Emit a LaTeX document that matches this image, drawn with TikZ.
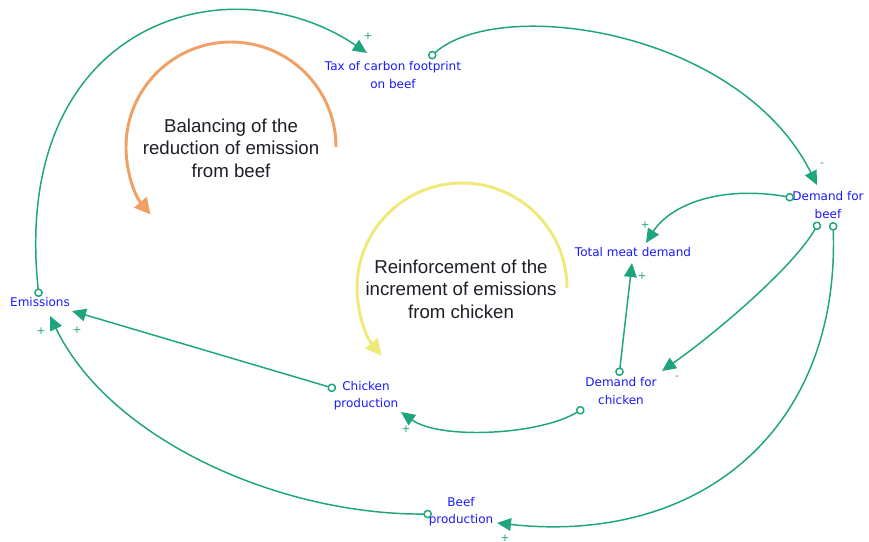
\documentclass[tikz,border=0pt]{standalone}
\usepackage{fontspec}
\setmainfont{DejaVu Sans}
\newfontfamily\loopfont{Liberation Sans}
\usetikzlibrary{arrows.meta}
\definecolor{linkgreen}{RGB}{30,165,125}
\definecolor{varblue}{RGB}{25,25,255}
\definecolor{loopone}{RGB}{240,160,100}
\definecolor{looptwo}{RGB}{240,232,120}
\definecolor{looptext}{RGB}{30,30,40}

\begin{document}
\begin{tikzpicture}[x=0.75pt,y=-0.75pt,
  var/.style={text=varblue, font=\fontsize{9pt}{13pt}\selectfont, align=center, inner sep=0pt},
  link/.style={draw=linkgreen, line width=1.1pt,
    {Circle[open,length=6.5pt]}-{Triangle[length=10.5pt,width=9.5pt]}},
  sign/.style={text=linkgreen, font=\fontsize{8pt}{9pt}\selectfont, inner sep=0pt},
  loopnote/.style={text=looptext, font=\loopfont\fontsize{14pt}{17pt}\selectfont,
    align=center, inner sep=0pt},
  looparrow/.style={line width=2.2pt, -{Triangle[length=12pt,width=12pt]}}
]
\useasboundingbox (0,0) rectangle (869,542);

% loop markers
\draw[looparrow, draw=loopone] (336,147) arc[start angle=0, end angle=-220, radius=105];
\draw[looparrow, draw=looptwo] (567,288) arc[start angle=0, end angle=-220, radius=105];
\node[loopnote] (balance) at (231,148) {Balancing of the\\reduction of emission\\from beef};
\node[loopnote] (reinforce) at (461,289) {Reinforcement of the\\increment of emissions\\from chicken};

% variables
\node[var] (tax)    at (393,75)  {Tax of carbon footprint\\on beef};
\node[var] (dbeef)  at (828,205) {Demand for\\beef};
\node[var] (total)  at (633,252) {Total meat demand};
\node[var] (emis)   at (40,302)  {Emissions};
\node[var] (cprod)  at (366,396) {Chicken\\production};
\node[var] (dchick) at (621,391) {Demand for\\chicken};
\node[var] (bprod)  at (461,512) {Beef\\production};

% causal links
\draw[link] ([shift={(-1,-5)}]emis.center)
  .. controls +(-29,-277) and +(-137,-93) .. ([shift={(-26,-22)}]tax.center);
\draw[link] ([shift={(36,-17)}]tax.center)
  .. controls +(71,-63) and +(-77,-155) .. ([shift={(-11,-20)}]dbeef.center);
\draw[link] ([shift={(-34,-7)}]dbeef.center)
  .. controls +(-74,-13) and +(24,-38) .. ([shift={(13,-9)}]total.center);
\draw[link] ([shift={(-9,17)}]dbeef.center)
  .. controls +(-24,43) and +(58,-41) .. ([shift={(41,-20)}]dchick.center);
\draw[link] ([shift={(5,17)}]dbeef.center)
  .. controls +(7,208) and +(203,22) .. ([shift={(36,11)}]bprod.center);
\draw[link] ([shift={(-2,-15)}]dchick.center) -- ([shift={(-1,11)}]total.center);
\draw[link] ([shift={(-37,17)}]dchick.center)
  .. controls +(-44,27) and +(39,28) .. ([shift={(35,16)}]cprod.center);
\draw[link] ([shift={(-30,-7)}]cprod.center) -- ([shift={(32,9)}]emis.center);
\draw[link] ([shift={(-29,2)}]bprod.center)
  .. controls +(-152,1) and +(60,124) .. ([shift={(10,14)}]emis.center);

% link polarities
\node[sign] (s1) at (368,36)  {+};
\node[sign] (s2) at (822,165) {-};
\node[sign] (s3) at (645,225) {+};
\node[sign] (s4) at (642,276) {+};
\node[sign] (s5) at (677,378) {-};
\node[sign] (s6) at (406,429) {+};
\node[sign] (s7) at (41,331)  {+};
\node[sign] (s8) at (77,330)  {+};
\node[sign] (s9) at (505,538) {+};
\end{tikzpicture}
\end{document}
